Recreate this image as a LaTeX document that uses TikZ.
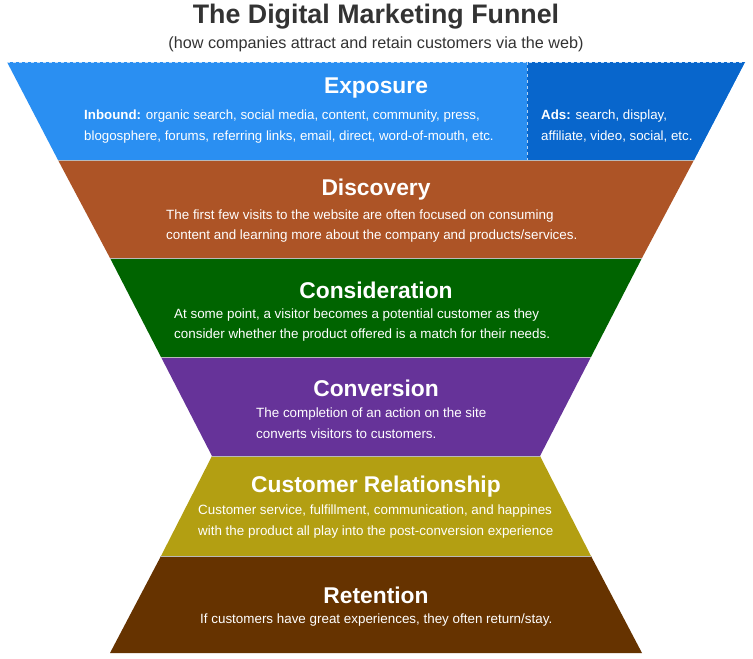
\documentclass[tikz,border=0pt]{standalone}
\usepackage{fontspec}
\setmainfont{Liberation Sans}
\usepackage{tikz}
\definecolor{titlegray}{HTML}{333333}
\definecolor{expoblue}{HTML}{2A8FF2}
\definecolor{adsblue}{HTML}{0866CC}
\definecolor{discbrown}{HTML}{AD5426}
\definecolor{consgreen}{HTML}{006400}
\definecolor{convpurple}{HTML}{663399}
\definecolor{relolive}{HTML}{B39F12}
\definecolor{retbrown}{HTML}{663300}
\tikzset{
 stagetitle/.style={text=white,font=\bfseries\fontsize{22.8}{26}\selectfont},
 stagetext/.style={text=white,font=\fontsize{13.4}{20.5}\selectfont,align=left,anchor=west,inner sep=0pt},
 seam/.style={draw=gray!55,line width=1pt},
}

\begin{document}
\begin{tikzpicture}[x=1pt,y=-1pt]
        \fill[white] (0,0) rectangle (753,659);
        \useasboundingbox (0,0) rectangle (753,659);

        % the funnel, top to bottom
        \fill[expoblue] (7,62) -- (745,62) -- (694,160) -- (58,160) -- cycle;
        \fill[adsblue] (527,62) -- (745,62) -- (694,160) -- (527,160) -- cycle;
        \fill[discbrown] (58,160) -- (694,160) -- (642,258) -- (110,258) -- cycle;
        \fill[consgreen] (110,258) -- (642,258) -- (591,357) -- (161,357) -- cycle;
        \fill[convpurple] (161,357) -- (591,357) -- (540,456) -- (212,456) -- cycle;
        \fill[relolive] (212,456) -- (540,456) -- (591,556) -- (161,556) -- cycle;
        \fill[retbrown] (161,556) -- (591,556) -- (642,653) -- (110,653) -- cycle;

        \draw[white!70!expoblue, dashed, line width=0.8pt] (7,62) -- (745,62);
        \draw[white!70!adsblue, dashed, line width=0.8pt] (527,62) -- (527,160);
        \foreach \y/\l/\r in {160/58/694, 258/110/642, 357/161/591, 456/212/540, 556/161/591} {
            \draw[seam] (\l,\y) -- (\r,\y);
        }

        \node[text=titlegray, font=\bfseries\fontsize{26.8}{30}\selectfont] (title) at (376,17) {The Digital Marketing Funnel};
        \node[text=titlegray, font=\fontsize{16.2}{18}\selectfont] (subtitle) at (376,44) {(how companies attract and retain customers via the web)};

        \node[stagetitle] (expoT) at (376,88) {Exposure};
        \node[stagetext, font=\fontsize{13.3}{21}\selectfont] (expo) at (84,126.5) {\textbf{Inbound:} organic search, social media, content, community, press,\\blogosphere, forums, referring links, email, direct, word-of-mouth, etc.};
        \node[stagetext, font=\fontsize{13.3}{21}\selectfont] (ads) at (541,126.5) {\textbf{Ads:} search, display,\\affiliate, video, social, etc.};

        \node[stagetitle] (discT) at (376,190) {Discovery};
        \node[stagetext] (disc) at (166,226) {The first few visits to the website are often focused on consuming\\content and learning more about the company and products/services.};

        \node[stagetitle] (consT) at (376,290) {Consideration};
        \node[stagetext] (cons) at (174,325) {At some point, a visitor becomes a potential customer as they\\consider whether the product offered is a match for their needs.};

        \node[stagetitle] (convT) at (376,388) {Conversion};
        \node[stagetext] (conv) at (256,423) {The completion of an action on the site\\converts visitors to customers.};

        \node[stagetitle] (relT) at (376,487) {Customer Relationship};
        \node[stagetext] (rel) at (198,521.5) {Customer service, fulfillment, communication, and happines\\with the product all play into the post-conversion experience};

        \node[stagetitle] (retT) at (376,595) {Retention};
        \node[stagetext] (ret) at (200,620) {If customers have great experiences, they often return/stay.};
    \end{tikzpicture}
\end{document}
